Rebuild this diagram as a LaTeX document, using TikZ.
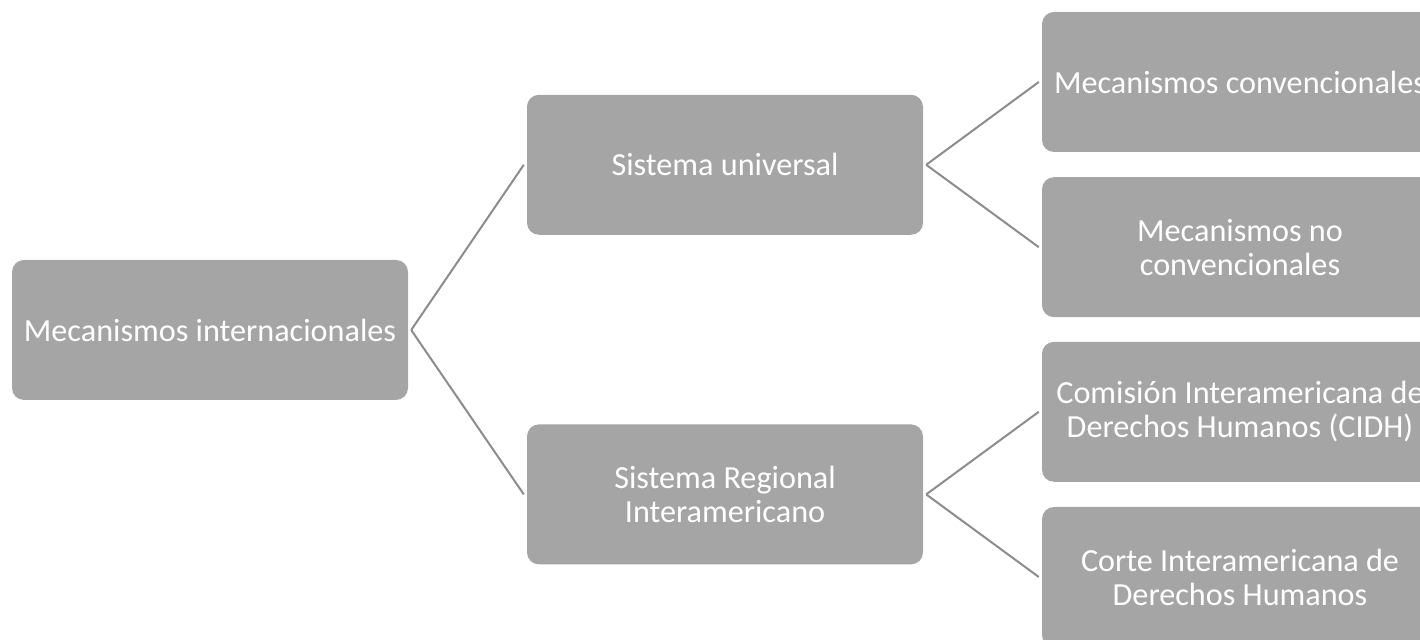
\documentclass[tikz,border=0pt]{standalone}
\usepackage{fontspec}
\setmainfont{Carlito}
\usepackage{xcolor}
\usepackage{tikz}
\usetikzlibrary{positioning}

\definecolor{boxgray}{HTML}{A5A5A5}
\definecolor{linkgray}{HTML}{8C8C8C}

\tikzset{
  mech/.style={fill=boxgray, rounded corners=6pt, minimum width=198pt, minimum height=70pt,
    inner sep=0pt, outer sep=1.6pt, text=white, align=center,
    font=\fontsize{16.1pt}{17pt}\selectfont},
  link/.style={draw=linkgray, line width=1pt},
}

\begin{document}
\begin{tikzpicture}
    \useasboundingbox (0,0) rectangle (710pt,-320pt);
    \clip (0,0) rectangle (710pt,-320pt);

    \node[mech] (intl) at (105pt,-165pt) {Mecanismos internacionales};

    \node[mech, right=56.3pt of intl, yshift=82.6pt] (univ) {Sistema universal};
    \node[mech, right=56.3pt of intl, yshift=-82.2pt] (regional) {Sistema Regional\\Interamericano};

    \node[mech, right=56.3pt of univ, yshift=41.4pt] (conv) {Mecanismos convencionales};
    \node[mech, right=56.3pt of univ, yshift=-41.2pt] (noconv) {Mecanismos no\\convencionales};
    \node[mech, right=56.3pt of regional, yshift=41.3pt] (cidh) {Comisión Interamericana de\\Derechos Humanos (CIDH)};
    \node[mech, right=56.3pt of regional, yshift=-41.3pt] (corte) {Corte Interamericana de\\Derechos Humanos};

    \draw[link] (intl.east) -- (univ.west);
    \draw[link] (intl.east) -- (regional.west);
    \draw[link] (univ.east) -- (conv.west);
    \draw[link] (univ.east) -- (noconv.west);
    \draw[link] (regional.east) -- (cidh.west);
    \draw[link] (regional.east) -- (corte.west);
\end{tikzpicture}
\end{document}
